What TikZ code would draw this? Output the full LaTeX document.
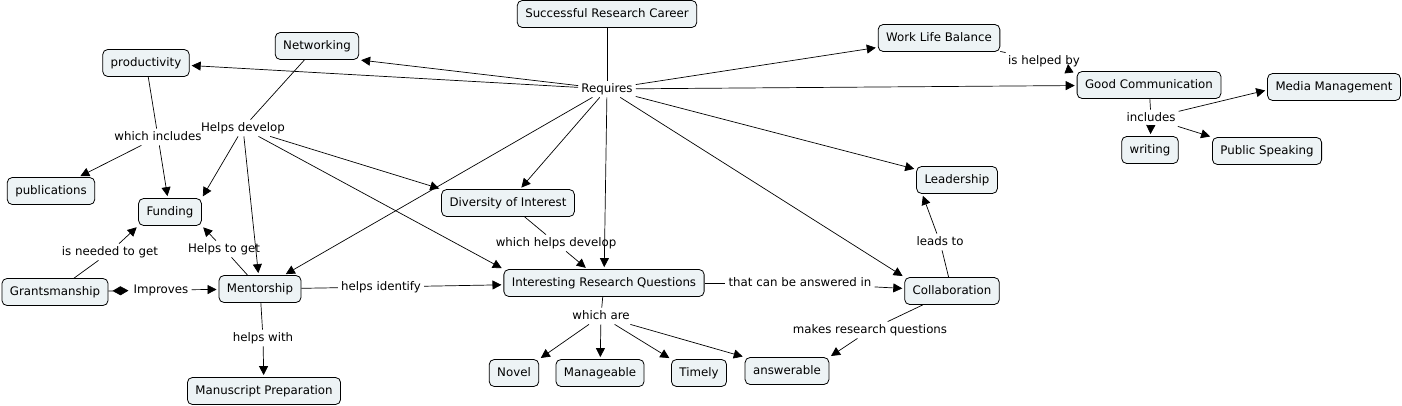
\documentclass[tikz,border=0pt]{standalone}
\usepackage{fontspec}
\setmainfont{DejaVu Sans}
\usetikzlibrary{arrows.meta}
\definecolor{boxfill}{HTML}{EDF3F5}
\begin{document}
\begin{tikzpicture}[x=1pt,y=-1pt,
  concept/.style={draw=black, line width=0.8pt, rounded corners=5pt, fill=boxfill,
    inner xsep=8pt, inner ysep=0pt, minimum height=27pt,
    text height=8.8pt, text depth=2.6pt, font=\fontsize{11.8}{13}\selectfont},
  phrase/.style={inner xsep=3pt, inner ysep=2.5pt, text height=8.8pt, text depth=2.6pt,
    font=\fontsize{11.8}{13}\selectfont},
  link/.style={line width=0.7pt},
  arr/.style={link, -{Triangle[length=9pt,width=9pt]}, shorten >=2pt},
  dia/.style={link, -{Diamond[length=16pt,width=9pt]}, shorten >=2pt}
]
\useasboundingbox (0,0) rectangle (1402,406);

% concepts
\node[concept] (src) at (607,14) {Successful Research Career};
\node[concept] (net) at (317,46) {Networking};
\node[concept] (prod) at (146,63) {productivity};
\node[concept] (wlb) at (939,38) {Work Life Balance};
\node[concept] (gc) at (1149,85) {Good Communication};
\node[concept] (mm) at (1334,87) {Media Management};
\node[concept] (wri) at (1150,150) {writing};
\node[concept] (ps) at (1267,151) {Public Speaking};
\node[concept] (lead) at (957,180) {Leadership};
\node[concept] (div) at (508,203) {Diversity of Interest};
\node[concept] (pub) at (51,191) {publications};
\node[concept] (fund) at (170,212) {Funding};
\node[concept] (grant) at (55,292) {Grantsmanship};
\node[concept] (ment) at (260,289) {Mentorship};
\node[concept] (irq) at (604,283) {Interesting Research Questions};
\node[concept] (coll) at (952,291) {Collaboration};
\node[concept] (mp) at (264,391) {Manuscript Preparation};
\node[concept] (novel) at (514,373) {Novel};
\node[concept] (man) at (600,373) {Manageable};
\node[concept] (timely) at (699,373) {Timely};
\node[concept] (ans) at (787,371) {answerable};

% linking phrases
\node[phrase] (req) at (607,89) {Requires};
\node[phrase] (wi) at (158,137) {which includes};
\node[phrase] (hd) at (243,128) {Helps develop};
\node[phrase] (ing) at (110,252) {is needed to get};
\node[phrase] (htg) at (224,249) {Helps to get};
\node[phrase] (imp) at (161,290) {Improves};
\node[phrase] (hi) at (381,287) {helps identify};
\node[phrase] (hw) at (263,338) {helps with};
\node[phrase] (whd) at (556,243) {which helps develop};
\node[phrase] (wa) at (601,316) {which are};
\node[phrase] (tcba) at (800,283) {that can be answered in};
\node[phrase] (lt) at (940,242) {leads to};
\node[phrase] (mrq) at (870,330) {makes research questions};
\node[phrase] (ihb) at (1044,61) {is helped by};
\node[phrase] (incl) at (1151,118) {includes};
\coordinate (ihbA) at (1069,73);
\coordinate (ihbB) at (1068,64);

% connectors
\draw[link] (src) -- (req);
\draw[arr] (req) -- (net.south east);
\draw[arr] (req) -- (prod);
\draw[arr] (req) -- (wlb);
\draw[arr] (req) -- (gc);
\draw[arr] (req) -- (lead);
\draw[arr] (req) -- (coll.north west);
\draw[arr] (req) -- (irq);
\draw[arr] (req) -- (div);
\draw[arr] (req) -- (ment);

\draw[link] (net) -- (hd);
\draw[arr] (hd) -- (fund.north east);
\draw[arr] (hd) -- (ment);
\draw[arr] (hd) -- (div.north west);
\draw[arr] (hd) -- (irq.north west);

\draw[link] (prod) -- (wi);
\draw[arr] (wi) -- (pub);
\draw[arr] (wi) -- (fund);

\draw[link] (grant) -- (ing);
\draw[arr] (ing) -- (fund.south west);
\draw[link] (ment) -- (htg);
\draw[arr] (htg) -- (fund.south east);

\draw[dia] (grant) -- (imp);
\draw[arr] (imp) -- (ment);
\draw[link] (ment) -- (hi);
\draw[arr] (hi) -- (irq);
\draw[link] (ment) -- (hw);
\draw[arr] (hw) -- (mp);

\draw[link] (div) -- (whd);
\draw[arr] (whd) -- (irq);
\draw[link] (irq) -- (wa);
\draw[arr] (wa) -- (novel.north east);
\draw[arr] (wa) -- (man);
\draw[arr] (wa) -- (timely.north west);
\draw[arr] (wa) -- (ans.north west);

\draw[link] (irq) -- (tcba);
\draw[arr] (tcba) -- (coll);
\draw[link] (coll) -- (lt);
\draw[arr] (lt) -- ([xshift=6pt]lead.south west);
\draw[link] (coll) -- (mrq);
\draw[arr] (mrq) -- (ans.north east);

\draw[link] (wlb) -- (ihb);
\draw[arr, shorten >=0pt] (ihbA) -- (ihbB);
\draw[link] (gc) -- (incl);
\draw[arr] (incl) -- (wri);
\draw[arr] (incl) -- ([yshift=-3pt]mm.west);
\draw[arr] (incl) -- (ps.north west);
\end{tikzpicture}
\end{document}
